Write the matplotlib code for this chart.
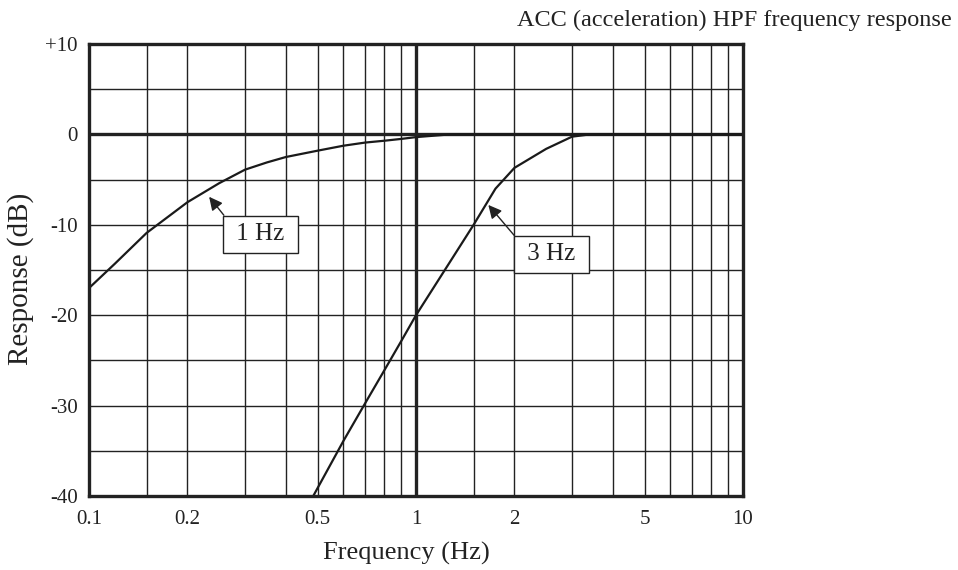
import matplotlib.pyplot as plt
import numpy as np

plt.rcParams['font.family'] = ['Liberation Serif', 'DejaVu Serif']

# --- data ---
f_1hz = [0.1, 0.12, 0.15, 0.2, 0.25, 0.3, 0.35, 0.4, 0.5, 0.6, 0.7, 0.8, 0.9, 1.0, 1.27, 10]
db_1hz = [-17.0, -14.3, -10.9, -7.5, -5.4, -3.9, -3.1, -2.5, -1.8, -1.25, -0.9, -0.7, -0.5, -0.3, 0.0, 0.0]

f_3hz = [0.485, 0.6, 0.7, 0.8, 0.9, 1.0, 1.25, 1.5, 1.75, 2.0, 2.5, 3.0, 3.4, 10]
db_3hz = [-40.0, -33.9, -29.7, -26.1, -22.9, -20.0, -14.5, -10.0, -6.0, -3.7, -1.6, -0.25, 0.0, 0.0]

x_ticks = [0.1, 0.2, 0.5, 1, 2, 5, 10]
x_labels = ['0.1', '0.2', '0.5', '1', '2', '5', '10']
y_ticks = [-40, -30, -20, -10, 0, 10]
y_labels = ['-40', '-30', '-20', '-10', '0', '+10']
x_grid = [0.15, 0.2, 0.3, 0.4, 0.5, 0.6, 0.7, 0.8, 0.9,
          1.5, 2, 3, 4, 5, 6, 7, 8, 9]

fig = plt.figure(figsize=(9.58, 5.7), dpi=100)
ax = fig.add_axes([0.0929, 0.1298, 0.6827, 0.793])

ink = '#222222'
# grid
for xv in x_grid:
    ax.axvline(xv, color=ink, lw=1.0, zorder=1)
for yv in np.arange(-35, 10, 5):
    ax.axhline(yv, color=ink, lw=1.0, zorder=1)
ax.axvline(1, color=ink, lw=2.4, zorder=2)
ax.axhline(0, color=ink, lw=2.4, zorder=2)

ax.plot(f_1hz, db_1hz, color='#1a1a1a', lw=1.6, zorder=3)
ax.plot(f_3hz, db_3hz, color='#1a1a1a', lw=1.6, zorder=3)

box = dict(boxstyle='square,pad=0.3', fc='white', ec=ink, lw=1.0)
arrow = dict(arrowstyle='-|>', color=ink, lw=1.0, mutation_scale=20,
             shrinkA=0, shrinkB=0, relpos=(0, 1))
ax.annotate(' 1 Hz ', xy=(0.233, -6.9), xytext=(0.3345, -11.04), ha='center', va='center',
            fontsize=18, color=ink, bbox=box, arrowprops=arrow, zorder=5)
ax.annotate(' 3 Hz ', xy=(1.664, -7.8), xytext=(2.592, -13.28), ha='center', va='center',
            fontsize=18, color=ink, bbox=box, arrowprops=arrow, zorder=5)

ax.set_xscale('log')
ax.set_xlim(0.1, 10)
ax.set_ylim(-40, 10)
ax.set_xticks(x_ticks)
ax.set_xticklabels(x_labels)
ax.minorticks_off()
ax.set_yticks(y_ticks)
ax.set_yticklabels(y_labels)
ax.tick_params(length=0, labelsize=15, colors=ink, pad=8)
ax.tick_params(axis='x', pad=10)
for s in ax.spines.values():
    s.set_linewidth(2.4)
    s.set_color(ink)
    s.set_zorder(6)

ax.set_xlabel('Frequency (Hz)', fontsize=19, color=ink, va='center')
ax.set_ylabel('Response (dB)', fontsize=21, color=ink, va='center', ha='center')
ax.xaxis.set_label_coords(0.485, -0.126)
ax.yaxis.set_label_coords(-0.104, 0.48)
fig.text(0.9937, 0.965, 'ACC (acceleration) HPF frequency response', ha='right', va='center',
         fontsize=17.5, color=ink)

plt.savefig('out.png', dpi=100)
